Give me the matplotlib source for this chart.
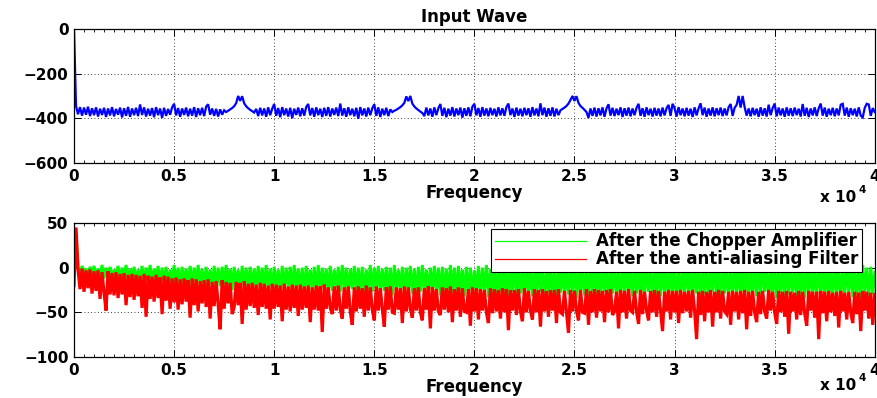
import matplotlib
matplotlib.use('Agg')
import matplotlib.pyplot as plt
from matplotlib.ticker import MultipleLocator
import numpy as np

# spectrum of the input wave, one value per 100 Hz bin (0 .. 40 kHz)
input_wave = [
    0, -345, -382, -350, -388, -352, -384, -348, -390, -355,
    -386, -351, -392, -357, -385, -353, -394, -356, -387, -350,
    -391, -358, -384, -352, -396, -355, -389, -349, -393, -356,
    -386, -353, -390, -338, -385, -351, -392, -357, -388, -354,
    -395, -350, -386, -356, -398, -353, -389, -358, -384, -351,
    -335, -387, -354, -393, -356, -385, -352, -391, -357, -388,
    -350, -394, -355, -386, -353, -390, -348, -337, -384, -356,
    -389, -358, -392, -360, -384, -364, -372, -366, -360, -354,
    -346, -332, -300, -322, -301, -333, -346, -355, -362, -368,
    -374, -358, -390, -353, -387, -356, -393, -351, -386, -357,
    -336, -389, -354, -395, -350, -386, -356, -392, -353, -400,
    -357, -385, -352, -391, -355, -388, -349, -336, -387, -354,
    -393, -351, -386, -357, -394, -353, -389, -350, -392, -356,
    -385, -352, -390, -334, -388, -355, -393, -351, -386, -357,
    -391, -353, -402, -350, -387, -356, -392, -352, -386, -355,
    -337, -389, -351, -394, -357, -386, -353, -390, -360, -372,
    -366, -362, -356, -350, -342, -331, -302, -323, -300, -334,
    -347, -356, -363, -370, -376, -390, -352, -387, -356, -393,
    -351, -386, -355, -336, -389, -353, -395, -357, -388, -350,
    -392, -356, -386, -352, -397, -355, -389, -351, -391, -348,
    -335, -387, -354, -393, -350, -388, -356, -391, -353, -386,
    -357, -392, -351, -387, -355, -389, -350, -334, -386, -356,
    -394, -352, -388, -357, -391, -353, -386, -355, -393, -350,
    -387, -356, -391, -333, -386, -352, -393, -355, -389, -351,
    -392, -357, -386, -364, -358, -352, -345, -334, -318, -300,
    -322, -301, -331, -345, -353, -362, -372, -398, -356, -389,
    -352, -392, -355, -387, -351, -393, -356, -337, -388, -353,
    -390, -357, -386, -351, -394, -355, -388, -352, -391, -356,
    -386, -353, -335, -389, -355, -393, -351, -386, -357, -392,
    -353, -388, -356, -391, -352, -387, -355, -340, -389, -335,
    -354, -392, -350, -386, -356, -391, -353, -388, -357, -394,
    -351, -387, -355, -333, -386, -352, -393, -356, -388, -351,
    -391, -355, -386, -352, -390, -356, -387, -350, -336, -389,
    -353, -340, -300, -352, -300, -350, -388, -356, -391, -353,
    -386, -357, -393, -351, -388, -355, -392, -339, -386, -354,
    -334, -391, -352, -387, -356, -393, -351, -388, -355, -390,
    -352, -386, -357, -392, -336, -389, -353, -394, -356, -387,
    -351, -390, -355, -334, -388, -352, -393, -357, -386, -353,
    -391, -356, -387, -339, -335, -388, -352, -393, -355, -386,
    -357, -392, -351, -388, -396, -353, -335, -338, -389, -354,
    -372,
]

# after the chopper amplifier (green), same bins
chopper_out = [
    -8, 40, 0, -9, 2, -7, -1, -10, 1, -8,
    2, -11, -1, -9, 3, -12, 0, -10, 1, -13,
    -2, -11, 2, -14, 0, -12, 3, -15, -1, -13,
    1, -16, -2, -14, 2, -17, 0, -15, 3, -18,
    -1, -16, 2, -19, 0, -17, 1, -20, -2, -18,
    3, -19, 0, -21, 1, -18, -1, -20, 2, -22,
    0, -19, 3, -21, -1, -23, 1, -20, -2, -22,
    2, -24, 0, -21, 1, -23, 3, -20, -1, -25,
    1, -22, -2, -24, 2, -21, 0, -26, 1, -23,
    -1, -25, 2, -22, 0, -27, 3, -24, -1, -26,
    1, -23, -2, -28, 2, -25, 0, -22, 1, -27,
    3, -24, -1, -26, 0, -29, 2, -23, -2, -27,
    1, -25, 3, -28, 0, -24, -1, -30, 2, -26,
    -2, -23, 1, -27, 3, -25, 0, -29, -1, -24,
    2, -28, 0, -26, 1, -30, -2, -25, 3, -27,
    0, -24, 2, -29, -1, -26, 1, -28, 0, -31,
    3, -25, -2, -27, 1, -30, 0, -26, 2, -29,
    -1, -32, 1, -27, 3, -28, -2, -30, 0, -26,
    2, -29, 0, -31, 1, -27, -1, -33, 3, -28,
    0, -30, 2, -26, -2, -32, 1, -29, 0, -31,
    -3, -28, 2, -31, 0, -27, 3, -33, -1, -29,
    1, -32, -2, -28, 2, -30, 0, -34, 1, -27,
    3, -31, -1, -29, 0, -33, 2, -28, -2, -32,
    1, -30, 3, -27, -1, -34, 0, -29, 2, -31,
    -2, -33, 1, -28, 3, -32, 0, -30, -1, -27,
    2, -34, 0, -29, 1, -31, -2, -33, 3, -28,
    0, -30, 2, -32, -1, -27, 1, -34, 0, -29,
    3, -31, -2, -33, 2, -28, 0, -30, 1, -32,
    -1, -29, 3, -34, 0, -31, 2, -27, -2, -33,
    1, -30, 0, -32, 3, -28, -1, -34, 2, -29,
    0, -33, -2, -30, 1, -31, 3, -28, 0, -34,
    2, -29, -1, -32, 0, -30, 1, -33, -2, -27,
    3, -31, 0, -34, 2, -29, -1, -32, 1, -30,
    -2, -28, 3, -33, 0, -31, 2, -34, -1, -29,
    1, -32, 0, -30, 3, -27, -2, -33, 1, -31,
    2, -34, -1, -29, 0, -32, 3, -30, -2, -28,
    0, -33, 1, -31, 2, -34, -1, -29, 3, -32,
    -2, -30, 0, -28, 1, -33, 2, -31, -1, -34,
    3, -29, 0, -32, -2, -30, 1, -27, 2, -33,
    0, -31, -1, -34, 3, -28, 0, -32, 1, -30,
    -5,
]

# after the anti-aliasing filter (red), same bins
filter_out = [
    -20, 45, -2, -24, -1, -27, -3, -23, -2, -29,
    -4, -26, -3, -35, -5, -28, -48, -4, -30, -6,
    -31, -5, -34, -7, -30, -6, -42, -8, -33, -7,
    -36, -8, -32, -9, -45, -7, -55, -9, -35, -10,
    -38, -8, -34, -11, -52, -9, -37, -10, -46, -12,
    -39, -11, -47, -13, -41, -12, -38, -14, -56, -12,
    -42, -13, -49, -15, -40, -14, -44, -13, -57, -16,
    -43, -15, -41, -69, -14, -46, -16, -40, -17, -52,
    -44, -16, -42, -17, -63, -15, -47, -18, -43, -17,
    -45, -19, -53, -17, -44, -18, -46, -20, -58, -18,
    -46, -19, -44, -20, -60, -18, -47, -21, -49, -19,
    -45, -20, -54, -19, -47, -21, -45, -20, -61, -22,
    -47, -20, -48, -21, -72, -19, -46, -22, -45, -52,
    -21, -48, -20, -47, -57, -22, -46, -21, -49, -64,
    -22, -49, -21, -46, -23, -55, -20, -48, -22, -47,
    -59, -21, -48, -23, -46, -66, -22, -47, -21, -50,
    -51, -22, -47, -23, -62, -21, -49, -22, -46, -56,
    -23, -48, -22, -50, -59, -23, -47, -21, -68, -22,
    -48, -24, -49, -53, -22, -47, -23, -50, -21, -61,
    -24, -48, -22, -55, -23, -49, -50, -24, -65, -22,
    -49, -23, -58, -24, -48, -25, -50, -62, -23, -51,
    -24, -49, -25, -57, -23, -50, -24, -70, -25, -48,
    -25, -53, -24, -49, -60, -23, -50, -26, -48, -58,
    -24, -50, -25, -66, -24, -49, -26, -55, -25, -48,
    -25, -62, -24, -50, -52, -26, -49, -73, -25, -49,
    -26, -48, -59, -25, -50, -51, -24, -64, -26, -50,
    -24, -56, -25, -49, -26, -61, -25, -50, -24, -53,
    -49, -27, -68, -25, -50, -26, -57, -24, -48, -50,
    -26, -49, -63, -25, -52, -27, -48, -59, -26, -50,
    -25, -55, -26, -49, -71, -27, -49, -25, -58, -26,
    -50, -26, -62, -25, -51, -27, -49, -26, -56, -25,
    -48, -80, -27, -53, -26, -60, -27, -50, -25, -66,
    -27, -50, -25, -57, -26, -49, -52, -27, -64, -26,
    -49, -27, -58, -26, -51, -25, -69, -27, -54, -26,
    -50, -61, -27, -52, -26, -49, -57, -25, -48, -27,
    -50, -63, -26, -50, -27, -55, -26, -74, -27, -49,
    -28, -58, -26, -53, -27, -51, -65, -26, -48, -27,
    -56, -27, -80, -26, -51, -27, -60, -26, -50, -28,
    -54, -27, -67, -26, -49, -28, -58, -27, -50, -62,
    -27, -52, -28, -71, -26, -48, -27, -57, -28, -64,
    -30,
]

x_ticks = [0, 5000, 10000, 15000, 20000, 25000, 30000, 35000, 40000]
x_tick_labels = ['0', '0.5', '1', '1.5', '2', '2.5', '3', '3.5', '4']
top_y_ticks = [-600, -400, -200, 0]
bottom_y_ticks = [-100, -50, 0, 50]

FS = 11


def style_axes(ax, yticks, ylim):
    ax.set_xlim(0, 40000)
    ax.set_ylim(*ylim)
    ax.set_xticks(x_ticks)
    ax.set_xticklabels(x_tick_labels)
    ax.set_yticks(yticks)
    ax.xaxis.set_minor_locator(MultipleLocator(500))
    ax.tick_params(which='major', direction='in', top=True, right=True,
                   length=5, width=0.7, labelsize=FS, pad=4)
    ax.tick_params(which='minor', direction='in', top=True, right=True,
                   length=2.5, width=0.6)
    for lab in ax.get_xticklabels() + ax.get_yticklabels():
        lab.set_fontweight('bold')
    ax.grid(True, which='major', linestyle=(0, (1, 3)), color='black',
            linewidth=0.6)
    for s in ax.spines.values():
        s.set_linewidth(0.9)
    ax.set_xlabel('Frequency', fontsize=12, fontweight='bold', labelpad=0)


def exponent(fig, y):
    fig.text(0.934, y, 'x 10', fontsize=FS, fontweight='bold', va='center')
    fig.text(0.978, y + 0.017, '4', fontsize=7.5, fontweight='bold',
             va='center')


def main():
    plt.rcParams['font.family'] = ['DejaVu Sans']
    fig = plt.figure(figsize=(8.78, 3.98), dpi=100)

    freq = np.linspace(0, 40000, len(input_wave))

    ax1 = fig.add_axes([0.0843, 0.5905, 0.912, 0.3367])
    ax1.plot(freq, input_wave, color='blue', linewidth=1.6,
             solid_joinstyle='miter')
    style_axes(ax1, top_y_ticks, (-600, 0))
    ax1.set_title('Input Wave', fontsize=12, fontweight='bold', pad=5)
    exponent(fig, 1 - 197 / 398)

    ax2 = fig.add_axes([0.0843, 0.103, 0.912, 0.3367])
    ax2.plot(freq, chopper_out, color=(0, 1, 0), linewidth=2.1,
             solid_joinstyle='miter', label='After the Chopper Amplifier')
    ax2.plot(freq, filter_out, color=(1, 0, 0), linewidth=2.3,
             solid_joinstyle='miter', label='After the anti-aliasing Filter')
    style_axes(ax2, bottom_y_ticks, (-100, 50))
    leg = ax2.legend(loc='upper right', bbox_to_anchor=(0.984, 0.955),
                     borderaxespad=0, handlelength=5.5, handletextpad=0.6,
                     labelspacing=0.0, fancybox=False, framealpha=1,
                     edgecolor='black', borderpad=0.2,
                     prop={'size': 12, 'weight': 'bold'})
    leg.get_frame().set_linewidth(0.8)
    for line in leg.get_lines():
        line.set_linewidth(0.9)
    exponent(fig, 1 - 385 / 398)

    fig.savefig('out.png', dpi=100)


if __name__ == '__main__':
    main()
